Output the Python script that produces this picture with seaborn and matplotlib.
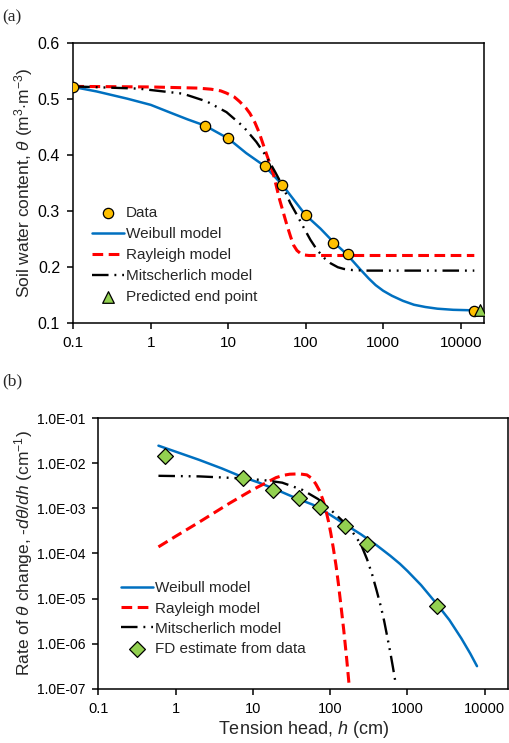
import numpy as np
import pandas as pd
import matplotlib
matplotlib.use("Agg")
import matplotlib.pyplot as plt
import seaborn as sns

# ---- panel (a): water retention ----
data_h = [0.1, 5, 10, 30, 50, 100, 224, 350, 15000]
data_theta = [0.521, 0.452, 0.429, 0.379, 0.346, 0.292, 0.243, 0.222, 0.121]
end_h = [17800]
end_theta = [0.122]

weib_h = [0.1, 0.2, 0.5, 1, 1.8, 3, 5, 10, 17, 30, 50, 100, 155, 224, 300, 400, 500,
          650, 800, 1000, 1300, 1800, 2500, 3500, 5000, 8000, 15000]
weib_theta = [0.521, 0.513, 0.500, 0.489, 0.475, 0.463, 0.452, 0.429, 0.403, 0.379,
              0.346, 0.292, 0.268, 0.245, 0.229, 0.211, 0.196, 0.179, 0.167, 0.157,
              0.148, 0.139, 0.132, 0.128, 0.125, 0.123, 0.122]

rayl_h = [0.1, 1, 4, 6, 8, 9.5, 12, 14, 17, 19, 22, 25, 31, 38, 46, 57, 64, 70, 77, 85,
          95, 110, 200, 15000]
rayl_theta = [0.522, 0.521, 0.519, 0.517, 0.514, 0.510, 0.503, 0.495, 0.483, 0.474,
              0.458, 0.440, 0.402, 0.367, 0.320, 0.275, 0.253, 0.238, 0.229, 0.224,
              0.221, 0.220, 0.220, 0.220]

mits_h = [0.1, 0.7, 2.6, 5.3, 9.5, 15.7, 23, 31, 40, 50, 63, 78, 94, 115, 140, 175,
          210, 260, 310, 400, 600, 15000]
mits_theta = [0.522, 0.518, 0.509, 0.495, 0.476, 0.450, 0.423, 0.397, 0.370, 0.345,
              0.314, 0.291, 0.270, 0.248, 0.230, 0.215, 0.206, 0.199, 0.196, 0.194,
              0.193, 0.193]

# ---- panel (b): rate of change ----
fd_h = [0.73, 7.4, 18, 40, 74, 157, 297, 2430]
fd_rate = [1.46e-2, 4.65e-3, 2.5e-3, 1.66e-3, 1.08e-3, 4.1e-4, 1.6e-4, 7.0e-6]

weib_rh = [0.6, 1, 2, 4, 7, 12, 20, 35, 60, 100, 160, 250, 400, 600, 800, 1000, 1500,
           2450, 3500, 5000, 6500, 7950]
weib_rate = [2.44e-2, 1.80e-2, 1.19e-2, 7.6e-3, 5.1e-3, 3.7e-3, 2.6e-3, 1.72e-3,
             1.2e-3, 7.2e-4, 4.3e-4, 2.66e-4, 1.52e-4, 8.9e-5, 5.9e-5, 4.1e-5, 2.0e-5,
             7.3e-6, 3.35e-6, 1.31e-6, 6.1e-7, 3.2e-7]

rayl_rh = [0.6, 1, 2, 5, 10, 14, 20, 25, 30, 40, 50, 58, 65, 72, 80, 88, 95, 102, 110,
           119, 128, 138, 150, 163, 177]
rayl_rate = [1.4e-4, 2.4e-4, 4.9e-4, 1.3e-3, 2.6e-3, 3.5e-3, 4.8e-3, 5.4e-3, 5.7e-3,
             5.8e-3, 5.5e-3, 4.6e-3, 3.5e-3, 2.55e-3, 1.6e-3, 9.2e-4, 5.2e-4, 2.8e-4,
             1.3e-4, 5.5e-5, 2.1e-5, 7.0e-6, 2.0e-6, 5.0e-7, 1.1e-7]

mits_rh = [0.6, 2, 7.3, 14, 24, 44, 70, 100, 175, 250, 300, 350, 400, 455, 500, 550,
           600, 650, 711]
mits_rate = [5.25e-3, 5.1e-3, 4.6e-3, 4.2e-3, 3.7e-3, 2.55e-3, 1.6e-3, 9.5e-4, 3.9e-4,
             1.6e-4, 7.5e-5, 3.4e-5, 1.5e-5, 6.5e-6, 3.2e-6, 1.4e-6, 6.5e-7, 3.0e-7, 1.2e-7]

x_ticks = [0.1, 1, 10, 100, 1000, 10000]
x_labels = ["0.1", "1", "10", "100", "1000", "10000"]
y_ticks_b = [1e-7, 1e-6, 1e-5, 1e-4, 1e-3, 1e-2, 1e-1]
y_labels_b = ["1.0E-07", "1.0E-06", "1.0E-05", "1.0E-04", "1.0E-03", "1.0E-02", "1.0E-01"]

BLUE = "#0070C0"
RED = "#FF0000"
ORANGE = "#FFC000"
GREEN = "#92D050"
red_ls = (0, (3.5, 1.8))
blk_ls = (0, (7, 2.5, 0.8, 2.5, 0.8, 2.5))

sns.set_style("ticks")
plt.rcParams["font.family"] = ["Liberation Sans", "DejaVu Sans"]
plt.rcParams["mathtext.fontset"] = "custom"
plt.rcParams["mathtext.rm"] = "Liberation Sans"
plt.rcParams["mathtext.it"] = "Liberation Sans:italic"
plt.rcParams["mathtext.bf"] = "Liberation Sans:bold"
plt.rcParams["axes.linewidth"] = 1.1

fig = plt.figure(figsize=(5.1, 7.43), dpi=100)
ax1 = fig.add_axes([0.1437, 0.5657, 0.8053, 0.3768])
ax2 = fig.add_axes([0.1928, 0.0727, 0.8032, 0.3647])


def style_axis(ax, xsize):
    ax.set_xscale("log")
    ax.set_xlim(0.1, 20000)
    ax.set_xticks(x_ticks, x_labels)
    ax.minorticks_off()
    ax.tick_params(direction="out", length=4, width=1.1, pad=5.5, colors="black")
    ax.tick_params(axis="x", labelsize=xsize)
    for s in ax.spines.values():
        s.set_visible(True)
        s.set_color("black")
        s.set_linewidth(1.1)


# panel a
sns.lineplot(x=weib_h, y=weib_theta, ax=ax1, color=BLUE, lw=1.8, label="Weibull model", sort=False)
sns.lineplot(x=rayl_h, y=rayl_theta, ax=ax1, color=RED, lw=2.2, linestyle=red_ls,
             label="Rayleigh model", sort=False)
sns.lineplot(x=mits_h, y=mits_theta, ax=ax1, color="black", lw=1.7, linestyle=blk_ls,
             label="Mitscherlich model", sort=False)
sns.scatterplot(x=data_h, y=data_theta, ax=ax1, color=ORANGE, edgecolor="black",
                linewidth=0.9, s=55, marker="o", label="Data", zorder=5)
sns.scatterplot(x=end_h, y=end_theta, ax=ax1, color=GREEN, edgecolor="black",
                linewidth=0.9, s=70, marker="^", label="Predicted end point", zorder=6)
style_axis(ax1, 11)
ax1.set_ylim(0.1, 0.6)
ax1.set_yticks([0.1, 0.2, 0.3, 0.4, 0.5, 0.6], ["0.1", "0.2", "0.3", "0.4", "0.5", "0.6"])
ax1.tick_params(axis="y", labelsize=11.5)
ax1.set_ylabel(r"Soil water content, $\theta$ (m$^{3}$$\cdot$m$^{-3}$)", fontsize=12.5, labelpad=2)
ax1.set_xlabel("")
h, l = ax1.get_legend_handles_labels()
order = [l.index(n) for n in ["Data", "Weibull model", "Rayleigh model",
                              "Mitscherlich model", "Predicted end point"]]
ax1.legend([h[i] for i in order], [l[i] for i in order], loc="lower left",
           bbox_to_anchor=(0.03, 0.045), frameon=False, fontsize=11, handlelength=2.1,
           handletextpad=0.15, labelspacing=0.45, borderaxespad=0)

# panel b
sns.lineplot(x=weib_rh, y=weib_rate, ax=ax2, color=BLUE, lw=1.8, label="Weibull model", sort=False)
sns.lineplot(x=rayl_rh, y=rayl_rate, ax=ax2, color=RED, lw=2.2, linestyle=red_ls,
             label="Rayleigh model", sort=False)
sns.lineplot(x=mits_rh, y=mits_rate, ax=ax2, color="black", lw=1.7, linestyle=blk_ls,
             label="Mitscherlich model", sort=False)
sns.scatterplot(x=fd_h, y=fd_rate, ax=ax2, color=GREEN, edgecolor="black",
                linewidth=0.9, s=65, marker="D", label="FD estimate from data", zorder=5)
ax2.set_yscale("log")
style_axis(ax2, 10.5)
ax2.set_ylim(1e-7, 1e-1)
ax2.set_yticks(y_ticks_b, y_labels_b)
ax2.minorticks_off()
ax2.tick_params(axis="y", labelsize=10)
ax2.set_xlabel(r"Tension head, $h$ (cm)", fontsize=13, labelpad=2)
ax2.set_ylabel(r"Rate of $\theta$ change, -$d\theta/dh$ (cm$^{-1}$)", fontsize=12.5, labelpad=1)
ax2.legend(loc="lower left", bbox_to_anchor=(0.04, 0.1), frameon=False, fontsize=11,
           handlelength=2.1, handletextpad=0.15, labelspacing=0.4, borderaxespad=0)

fig.text(0.005, 0.987, "(a)", family="Liberation Serif", fontsize=12.5, va="top")
fig.text(0.005, 0.497, "(b)", family="Liberation Serif", fontsize=12.5, va="top")

fig.savefig("out.png", dpi=100)
